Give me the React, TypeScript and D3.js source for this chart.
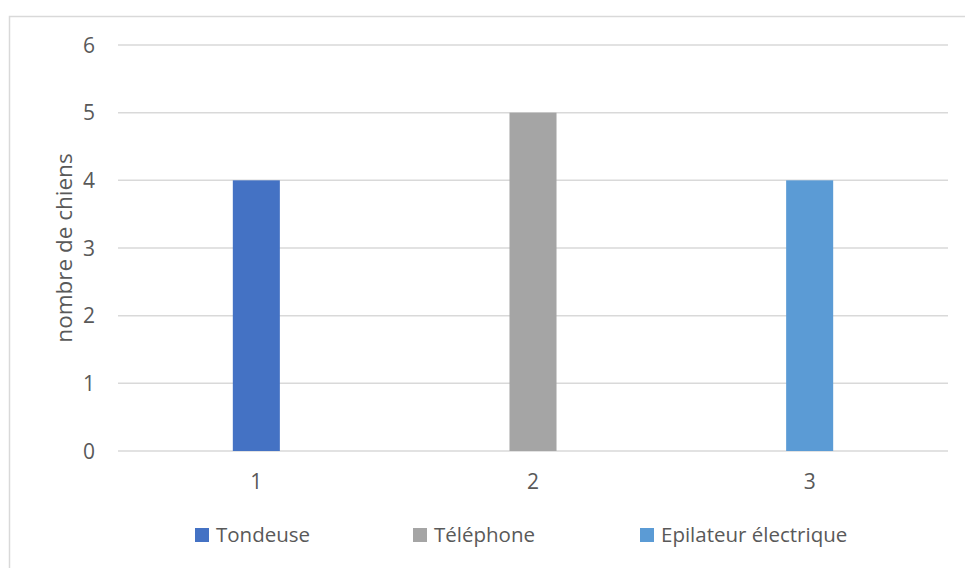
import * as d3 from "d3";

const categories = ["1", "2", "3"];
const seriesNames = ["Tondeuse", "Téléphone", "Epilateur électrique"];
const values = [4, 5, 4];
const colors = ["#4472C4", "#A5A5A5", "#5B9BD5"];
const yTicks = [0, 1, 2, 3, 4, 5, 6];
const yTitle = "nombre de chiens";

const W = 965;
const H = 568;
const plot = { left: 118, right: 948, top: 45, bottom: 451 };
const font = "'Open Sans', sans-serif";
const textColor = "#595959";
const gridColor = "#D9D9D9";

export default function App() {
  const x = d3
    .scaleBand<string>()
    .domain(categories)
    .range([plot.left, plot.right]);
  const y = d3.scaleLinear().domain([0, 6]).range([plot.bottom, plot.top]);
  const barW = x.bandwidth() * 0.17;

  // legend entries: swatch x positions
  const legendX = d3.scaleOrdinal<string, number>().domain(seriesNames).range([195, 413, 640]);

  return (
    <div style={{ position: "fixed", left: 0, top: 0 }}>
      <svg width={W} height={H} style={{ display: "block", fontFamily: font }}>
        <rect x={0} y={0} width={W} height={H} fill="#fff" />
        <rect
          x={9.5}
          y={16.5}
          width={W}
          height={H}
          fill="none"
          stroke={gridColor}
          strokeWidth={1.5}
        />

        {/* grid lines */}
        {yTicks.map((t) => (
          <line
            key={t}
            x1={plot.left}
            x2={plot.right}
            y1={y(t)}
            y2={y(t)}
            stroke={gridColor}
            strokeWidth={1.5}
          />
        ))}

        {/* y tick labels */}
        {yTicks.map((t) => (
          <text
            key={t}
            x={95}
            y={y(t) + 7.5}
            textAnchor="end"
            fontSize={21}
            fill={textColor}
          >
            {t}
          </text>
        ))}

        {/* bars */}
        {categories.map((c, i) => (
          <rect
            key={c}
            x={x(c)! + x.bandwidth() / 2 - barW / 2}
            y={y(values[i])}
            width={barW}
            height={y(0) - y(values[i])}
            fill={colors[i]}
          />
        ))}

        {/* x tick labels */}
        {categories.map((c) => (
          <text
            key={c}
            x={x(c)! + x.bandwidth() / 2}
            y={489}
            textAnchor="middle"
            fontSize={21}
            fill={textColor}
          >
            {c}
          </text>
        ))}

        {/* y axis title */}
        <text
          transform={`translate(72,${(plot.top + plot.bottom) / 2}) rotate(-90)`}
          textAnchor="middle"
          fontSize={22.5}
          fill={textColor}
        >
          {yTitle}
        </text>

        {/* legend */}
        {seriesNames.map((s, i) => (
          <g key={s} transform={`translate(${legendX(s)},528)`}>
            <rect width={14} height={14} fill={colors[i]} />
            <text x={21} y={14} fontSize={20.5} fill={textColor}>
              {s}
            </text>
          </g>
        ))}
      </svg>
    </div>
  );
}
